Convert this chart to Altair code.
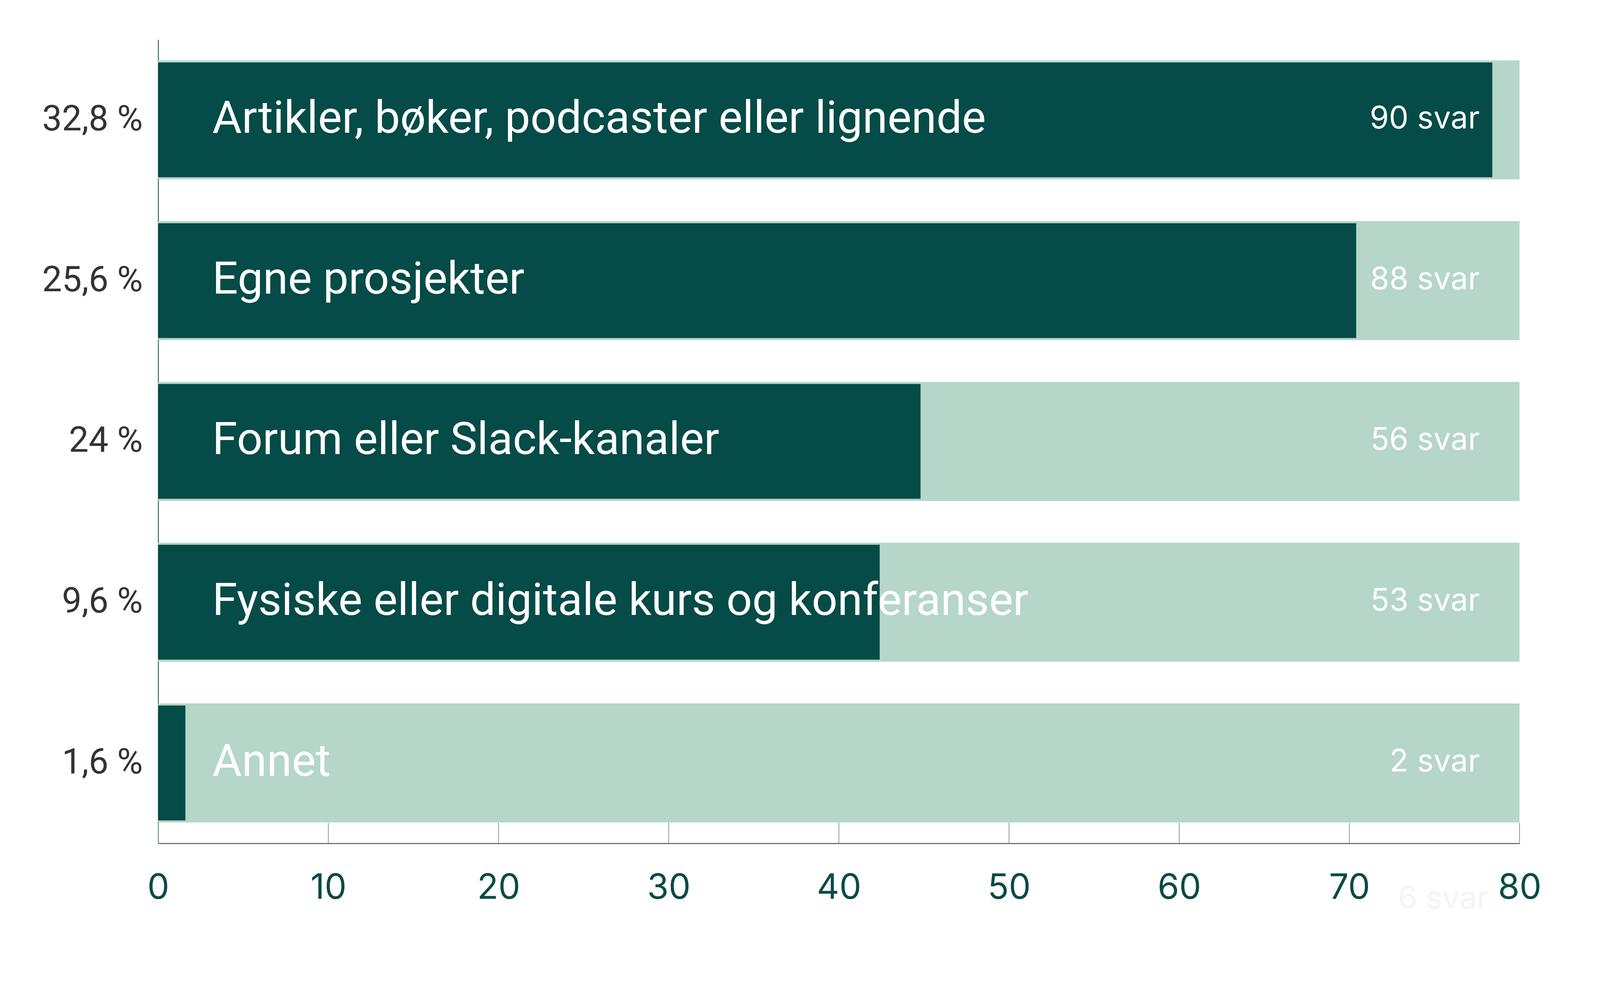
import altair as alt
import pandas as pd

pct_labels = ["32,8 %", "25,6 %", "24 %", "9,6 %", "1,6 %"]
categories = [
    "Artikler, bøker, podcaster eller lignende",
    "Egne prosjekter",
    "Forum eller Slack-kanaler",
    "Fysiske eller digitale kurs og konferanser",
    "Annet",
]
dark_values = [78.4, 70.4, 44.8, 42.4, 1.6]
full_values = [80, 80, 80, 80, 80]
svar_labels = ["90 svar", "88 svar", "56 svar", "53 svar", "2 svar"]
tick_values = [0, 10, 20, 30, 40, 50, 60, 70, 80]
ghost_label = ["6 svar"]

DARK = "#054b47"
LIGHT = "#b5d6c8"
W, H = 3521, 2080
BODY = "Roboto, Noto Sans, sans-serif"
WIDE = "Inter, Lato, sans-serif"

df = pd.DataFrame({
    "pct": pct_labels,
    "cat": categories,
    "dark": dark_values,
    "full": full_values,
    "svar": svar_labels,
})
ticks_df = pd.DataFrame({"t": tick_values})
ghost_df = pd.DataFrame({"g": ghost_label, "x": [80]})

yscale = alt.Scale(domain=pct_labels, paddingInner=0.26, paddingOuter=0.13)
xscale = alt.Scale(domain=[0, 80], nice=False)

y_enc = alt.Y(
    "pct:N",
    sort=pct_labels,
    scale=yscale,
    title=None,
    axis=alt.Axis(
        ticks=False,
        labelFontSize=91,
        labelFont=BODY,
        labelColor="#333333",
        labelPadding=40,
        labelLimit=1000,
        domainColor="#0a4b45",
        domainWidth=2,
    ),
)
x_enc = alt.X(
    "full:Q",
    scale=xscale,
    title=None,
    axis=alt.Axis(
        values=tick_values,
        ticks=False,
        grid=False,
        labelFontSize=90,
        labelFont=WIDE,
        labelColor="#0a4b45",
        labelPadding=72,
        labelFlush=False,
        labelOverlap=False,
        domainColor="#333333",
        domainWidth=2,
    ),
)

light = alt.Chart(df).mark_bar(color=LIGHT).encode(x=x_enc, y=y_enc)

dark = alt.Chart(df).mark_bar(color=DARK, height={"band": 0.965}).encode(
    x=alt.X("dark:Q", scale=xscale),
    y=alt.Y("pct:N", sort=pct_labels, scale=yscale),
)

cat_text = alt.Chart(df).mark_text(
    align="left", baseline="middle", dx=140, dy=-2, color="white",
    fontSize=117, font=BODY,
).encode(
    x=alt.datum(0),
    y=alt.Y("pct:N", sort=pct_labels, scale=yscale),
    text="cat:N",
)

svar_text = alt.Chart(df).mark_text(
    align="right", baseline="middle", dx=-103, dy=-2, color="white",
    fontSize=80, font=WIDE,
).encode(
    x=alt.datum(80),
    y=alt.Y("pct:N", sort=pct_labels, scale=yscale),
    text="svar:N",
)

tick_rules = alt.Chart(ticks_df).mark_rule(color="#8a9a97", strokeWidth=2).encode(
    x=alt.X("t:Q", scale=xscale),
    y=alt.value(H - 53),
    y2=alt.value(H),
)

ghost = alt.Chart(ghost_df).mark_text(
    align="right", baseline="middle", dx=-80, color="#f4f4f4",
    fontSize=80, font=WIDE,
).encode(
    x=alt.X("x:Q", scale=xscale),
    y=alt.value(H + 145),
    text="g:N",
)

chart = alt.layer(light, dark, tick_rules, cat_text, svar_text, ghost).properties(
    width=W,
    height=H,
    background="white",
    padding={"left": 401, "top": 82, "right": 200, "bottom": 200},
    autosize=alt.AutoSizeParams(type="none"),
).configure_view(stroke="transparent", strokeWidth=0)

chart.save("out.html", embed_options={"renderer": "svg", "actions": False})
